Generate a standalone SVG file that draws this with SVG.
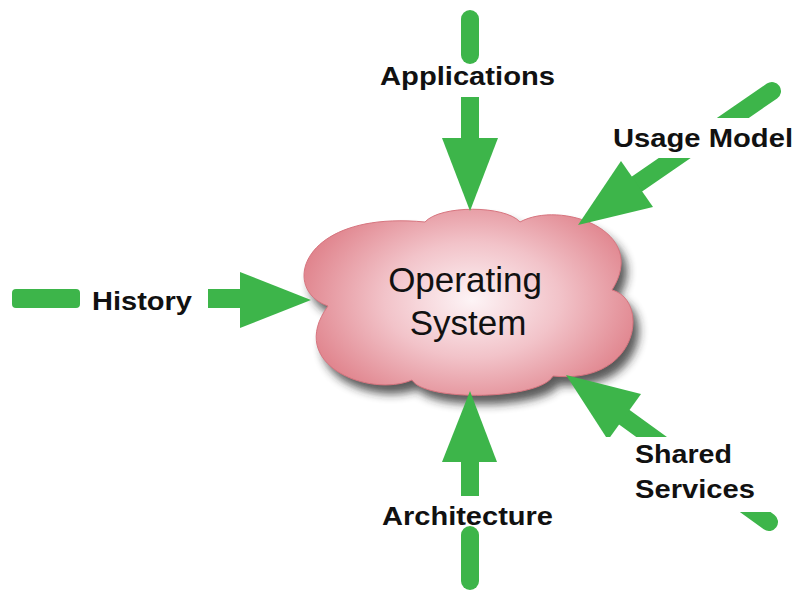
<svg xmlns="http://www.w3.org/2000/svg" width="795" height="591" viewBox="0 0 795 591">
<defs>
<radialGradient id="cg" gradientUnits="userSpaceOnUse" cx="0" cy="0" r="1" gradientTransform="translate(472,300) scale(175,115)">
<stop offset="0" stop-color="#fdf4f6"/>
<stop offset="0.5" stop-color="#f2c3c9"/>
<stop offset="1" stop-color="#e0848d"/>
</radialGradient>
<filter id="sh" x="-20%" y="-20%" width="140%" height="150%">
<feGaussianBlur stdDeviation="5"/>
</filter>
<clipPath id="cUM"><rect x="0" y="0" width="795" height="118"/><rect x="0" y="158" width="795" height="433"/></clipPath>
<clipPath id="cSS"><rect x="0" y="0" width="795" height="437"/><rect x="0" y="512" width="795" height="79"/></clipPath>
<path id="cloudshape" d="M 425 222 C 440 205, 505 205, 520 222 C 560 200, 650 230, 612 290 C 650 300, 640 385, 553 376 C 540 400, 425 402, 412 380 C 370 398, 285 365, 328 306 C 280 290, 300 210, 425 222 Z"/>
</defs>
<style>
.g{fill:#3db54a}
.gl{stroke:#3db54a;stroke-width:18;fill:none}
.lbl{font-family:"Liberation Sans",Arial,sans-serif;font-weight:bold;font-size:25px;fill:#111}
.os{font-family:"Liberation Sans",Arial,sans-serif;font-size:35px;fill:#111;text-anchor:middle}
</style>
<rect width="795" height="591" fill="#fff"/>
<g id="cloud">
<use href="#cloudshape" fill="#222" opacity="0.75" transform="translate(6,9)" filter="url(#sh)"/>
<use href="#cloudshape" fill="url(#cg)" stroke="#d7757f" stroke-width="1"/>
<text class="os" x="465" y="292">Operating</text>
<text class="os" x="468" y="335">System</text>
</g>
<g id="connectors">
<g id="applications-arrow">
<line class="gl" x1="470" y1="19" x2="470" y2="55" stroke-linecap="round"/>
<rect class="g" x="461" y="97" width="18" height="42"/>
<polygon class="g" points="442,138 498,138 470,211"/>
</g>
<g id="architecture-arrow">
<line class="gl" x1="470" y1="535" x2="470" y2="581" stroke-linecap="round"/>
<rect class="g" x="461" y="461" width="18" height="35"/>
<polygon class="g" points="442,462 497,462 470,391"/>
</g>
<g id="history-arrow">
<rect class="g" x="12" y="289" width="68" height="19" rx="4"/>
<rect class="g" x="208" y="289" width="33" height="19"/>
<polygon class="g" points="240,272 240,328 311,300"/>
</g>
<g id="usage-arrow" clip-path="url(#cUM)">
<line class="gl" x1="772" y1="91" x2="637" y2="184" stroke-linecap="round"/>
<polygon class="g" points="578,225 621,161 653,207"/>
</g>
<g id="shared-arrow" clip-path="url(#cSS)">
<line class="gl" x1="769" y1="522" x2="624" y2="417" stroke-linecap="round"/>
<polygon class="g" points="566,375 641,394 608,440"/>
</g>
</g>
<g id="lbl-applications"><text class="lbl" x="380" y="85" textLength="175" lengthAdjust="spacingAndGlyphs">Applications</text></g>
<g id="lbl-usage"><text class="lbl" x="613" y="147" textLength="180" lengthAdjust="spacingAndGlyphs">Usage Model</text></g>
<g id="lbl-history"><text class="lbl" x="92" y="310" textLength="100" lengthAdjust="spacingAndGlyphs">History</text></g>
<g id="lbl-shared"><text class="lbl" x="635" y="463" textLength="97" lengthAdjust="spacingAndGlyphs">Shared</text><text class="lbl" x="635" y="498" textLength="120" lengthAdjust="spacingAndGlyphs">Services</text></g>
<g id="lbl-architecture"><text class="lbl" x="382" y="525" textLength="171" lengthAdjust="spacingAndGlyphs">Architecture</text></g>
</svg>
